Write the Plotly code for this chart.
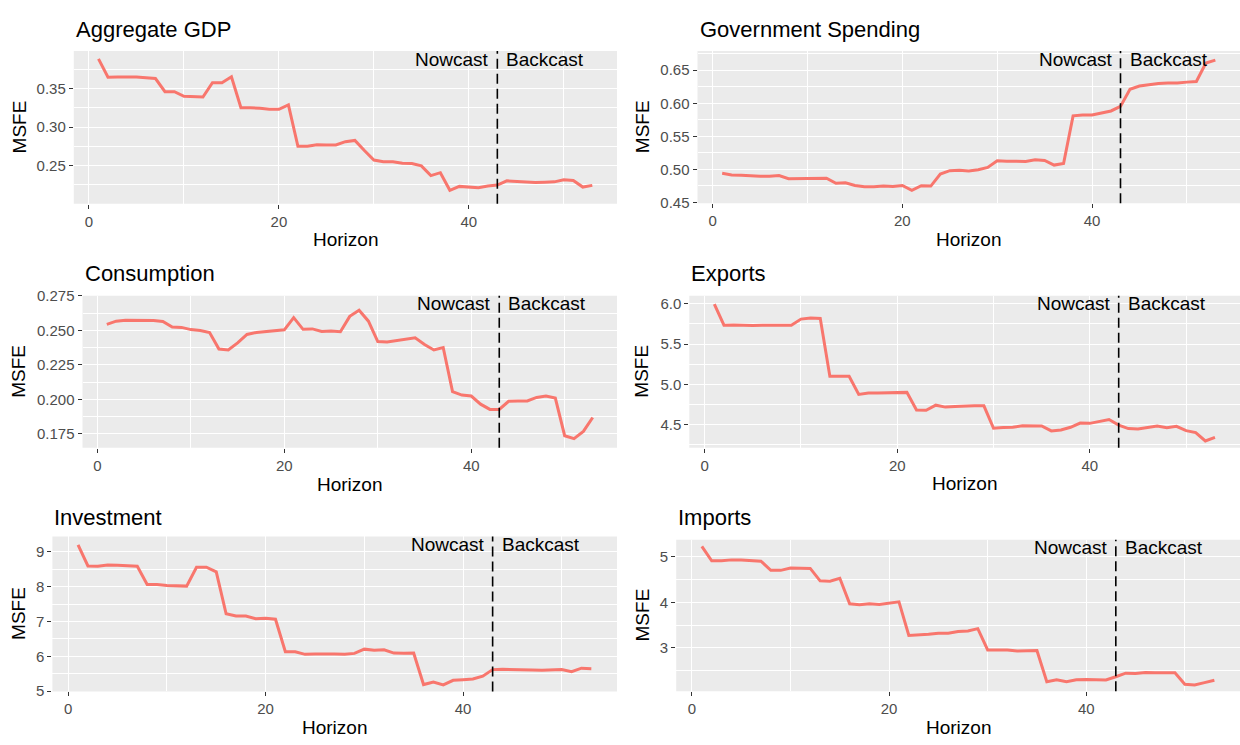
import plotly.graph_objects as go

# Forecast horizon (1 = earliest, 53 = latest)
horizon = list(range(1, 54))
cutoff = 43  # boundary between nowcast and backcast

gdp = [0.3886, 0.3648, 0.365, 0.365, 0.365, 0.364, 0.363, 0.346, 0.346, 0.340,
       0.3395, 0.339, 0.3576, 0.3576, 0.3653, 0.325, 0.325, 0.3245, 0.323, 0.323,
       0.3288, 0.275, 0.275, 0.277, 0.2767, 0.2767, 0.281, 0.2826, 0.2695, 0.2572,
       0.255, 0.255, 0.253, 0.2525, 0.2496, 0.2369, 0.2407, 0.2178, 0.2229, 0.2225,
       0.2212, 0.2233, 0.2246, 0.2301, 0.2292, 0.228, 0.228, 0.2284, 0.2288, 0.2314,
       0.2305, 0.222, 0.2242]

gov = [0.494, 0.4916, 0.491, 0.490, 0.4896, 0.4896, 0.4906, 0.486, 0.486, 0.4856,
       0.4866, 0.4866, 0.479, 0.4796, 0.4757, 0.4737, 0.4737, 0.4747, 0.4742, 0.4757,
       0.4682, 0.4752, 0.4747, 0.493, 0.498, 0.4985, 0.4975, 0.4995, 0.503, 0.5129,
       0.5124, 0.512, 0.512, 0.5144, 0.5134, 0.5065, 0.509, 0.581, 0.5824, 0.5824,
       0.585, 0.5884, 0.5953, 0.6212, 0.626, 0.6285, 0.630, 0.6305, 0.6305, 0.6320,
       0.633, 0.661, 0.6653]

consumption = [0.2544, 0.2567, 0.2574, 0.2574, 0.2574, 0.2572, 0.2565, 0.2525, 0.2522, 0.2506,
               0.2499, 0.2485, 0.2365, 0.2358, 0.241, 0.2471, 0.2485, 0.249, 0.2499, 0.2504,
               0.2593, 0.2508, 0.2511, 0.2492, 0.2496, 0.249, 0.2602, 0.2647, 0.2567, 0.2419,
               0.2416, 0.2428, 0.2438, 0.2447, 0.2398, 0.2358, 0.2376, 0.2056, 0.2031, 0.2024,
               0.1965, 0.1927, 0.1927, 0.1986, 0.1988, 0.1988, 0.2014, 0.2024, 0.2009, 0.1736,
               0.1715, 0.1767, 0.1868]

exports = [5.997, 5.734, 5.738, 5.73, 5.73, 5.734, 5.738, 5.734, 5.734, 5.81,
           5.823, 5.819, 5.10, 5.10, 5.10, 4.874, 4.89, 4.89, 4.89, 4.89,
           4.899, 4.68, 4.676, 4.74, 4.716, 4.724, 4.732, 4.732, 4.732, 4.453,
           4.461, 4.465, 4.485, 4.481, 4.481, 4.42, 4.432, 4.465, 4.518, 4.514,
           4.534, 4.562, 4.493, 4.449, 4.445, 4.465, 4.481, 4.461, 4.477, 4.424,
           4.40, 4.295, 4.339]

investment = [9.198, 8.592, 8.583, 8.62, 8.61, 8.592, 8.583, 8.06, 8.06, 8.033,
              8.023, 8.014, 8.555, 8.555, 8.424, 7.221, 7.156, 7.156, 7.08, 7.09,
              7.063, 6.13, 6.13, 6.056, 6.065, 6.075, 6.065, 6.056, 6.084, 6.205,
              6.177, 6.186, 6.093, 6.084, 6.093, 5.189, 5.263, 5.18, 5.31, 5.33,
              5.347, 5.43, 5.618, 5.627, 5.627, 5.618, 5.608, 5.60, 5.60, 5.618,
              5.56, 5.66, 5.646]

imports = [5.23, 4.914, 4.914, 4.935, 4.935, 4.92, 4.906, 4.705, 4.705, 4.755,
           4.748, 4.748, 4.475, 4.468, 4.532, 3.971, 3.95, 3.971, 3.957, 3.978,
           4.014, 3.273, 3.28, 3.302, 3.324, 3.324, 3.36, 3.374, 3.424, 2.957,
           2.957, 2.957, 2.935, 2.935, 2.942, 2.259, 2.302, 2.259, 2.302, 2.309,
           2.309, 2.295, 2.367, 2.446, 2.439, 2.46, 2.453, 2.453, 2.453, 2.201,
           2.187, 2.237, 2.288]

titles = ["Aggregate GDP", "Government Spending", "Consumption",
          "Exports", "Investment", "Imports"]
series = [gdp, gov, consumption, exports, investment, imports]

W, H = 1240, 745
FONT = "Liberation Sans, Arial, Helvetica, sans-serif"
LINE = "#F8766D"

# panel boxes in pixels: (left, right, top, bottom), y range, major/minor y steps, tick format
panels = [
    dict(box=(73.8, 617, 44, 200), yr=(0.2004, 0.3987), dy=0.05, my=0.025, fmt=".2f", col=0, title_y=22),
    dict(box=(697.5, 1240, 44, 199.5), yr=(0.4488, 0.6790), dy=0.05, my=0.025, fmt=".2f", col=1, title_y=22),
    dict(box=(82.5, 617, 294, 449.5), yr=(0.1648, 0.2752), dy=0.025, my=0.0125, fmt=".3f", col=0, title_y=271),
    dict(box=(689.3, 1240, 294, 449.3), yr=(4.212, 6.101), dy=0.5, my=0.25, fmt=".1f", col=1, title_y=271),
    dict(box=(52.4, 617, 540, 698.5), yr=(4.99, 9.44), dy=1, my=0.5, fmt="d", col=0, title_y=521),
    dict(box=(676.2, 1240, 543.3, 698.3), yr=(2.047, 5.38), dy=1, my=0.5, fmt="d", col=1, title_y=521),
]

fig = go.Figure()
annotations = []
shapes = []

for i, (p, name, vals) in enumerate(zip(panels, titles, series)):
    n = "" if i == 0 else str(i + 1)
    xa, ya = "x" + n, "y" + n
    left, right, top, bottom = p["box"]

    fig.add_trace(go.Scatter(
        x=horizon, y=vals, mode="lines", xaxis=xa, yaxis=ya,
        line=dict(color=LINE, width=3), showlegend=False, hoverinfo="x+y",
    ))

    fig.layout["xaxis" + n] = dict(
        domain=[left / W, right / W], range=[-1.6, 55.6], anchor=ya,
        tick0=0, dtick=20, showgrid=True, gridcolor="white", gridwidth=1.4,
        minor=dict(tick0=0, dtick=10, showgrid=True, gridcolor="white", gridwidth=0.7),
        zeroline=False, showline=False, ticks="outside", ticklen=4, tickwidth=1.1,
        tickcolor="#333333", tickfont=dict(family=FONT, size=15, color="#4D4D4D"),
        fixedrange=True,
    )
    fig.layout["yaxis" + n] = dict(
        domain=[1 - bottom / H, 1 - top / H], range=list(p["yr"]), anchor=xa,
        tick0=0, dtick=p["dy"], tickformat=p["fmt"],
        showgrid=True, gridcolor="white", gridwidth=1.4,
        minor=dict(tick0=0, dtick=p["my"], showgrid=True, gridcolor="white", gridwidth=0.7),
        zeroline=False, showline=False, ticks="outside", ticklen=4, tickwidth=1.1,
        tickcolor="#333333", tickfont=dict(family=FONT, size=15, color="#4D4D4D"),
        fixedrange=True,
    )

    # grey panel background
    shapes.append(dict(type="rect", xref=xa + " domain", yref=ya + " domain",
                       x0=0, x1=1, y0=0, y1=1, fillcolor="#EBEBEB",
                       line=dict(width=0), layer="below"))
    # nowcast / backcast divider
    shapes.append(dict(type="line", xref=xa, yref=ya + " domain",
                       x0=cutoff, x1=cutoff, y0=0, y1=1,
                       line=dict(color="black", width=1.6, dash="10px,5px")))

    annotations += [
        dict(text=name, xref="paper", yref="paper", x=left / W, y=1 - p["title_y"] / H,
             xanchor="left", yanchor="middle", showarrow=False,
             font=dict(family=FONT, size=22, color="black")),
        dict(text="Horizon", xref="paper", yref="paper", x=(left + right) / 2 / W,
             y=1 - (bottom + 37) / H, xanchor="center", yanchor="middle", showarrow=False,
             font=dict(family=FONT, size=19, color="black")),
        dict(text="MSFE", xref="paper", yref="paper",
             x=(19 if p["col"] == 0 else 642) / W, y=1 - (top + bottom) / 2 / H,
             xanchor="center", yanchor="middle", textangle=-90, showarrow=False,
             font=dict(family=FONT, size=19, color="black")),
        dict(text="Nowcast", xref=xa, yref=ya + " domain", x=cutoff, y=1,
             xanchor="right", yanchor="middle", xshift=-6, yshift=-8, showarrow=False,
             font=dict(family=FONT, size=19, color="black")),
        dict(text="Backcast", xref=xa, yref=ya + " domain", x=cutoff, y=1,
             xanchor="left", yanchor="middle", xshift=7, yshift=-8, showarrow=False,
             font=dict(family=FONT, size=19, color="black")),
    ]

fig.update_layout(
    width=W, height=H, margin=dict(l=0, r=0, t=0, b=0),
    paper_bgcolor="white", plot_bgcolor="rgba(0,0,0,0)",
    annotations=annotations, shapes=shapes, showlegend=False,
    font=dict(family=FONT),
)

fig.write_html("out.html", config={"displayModeBar": False})
